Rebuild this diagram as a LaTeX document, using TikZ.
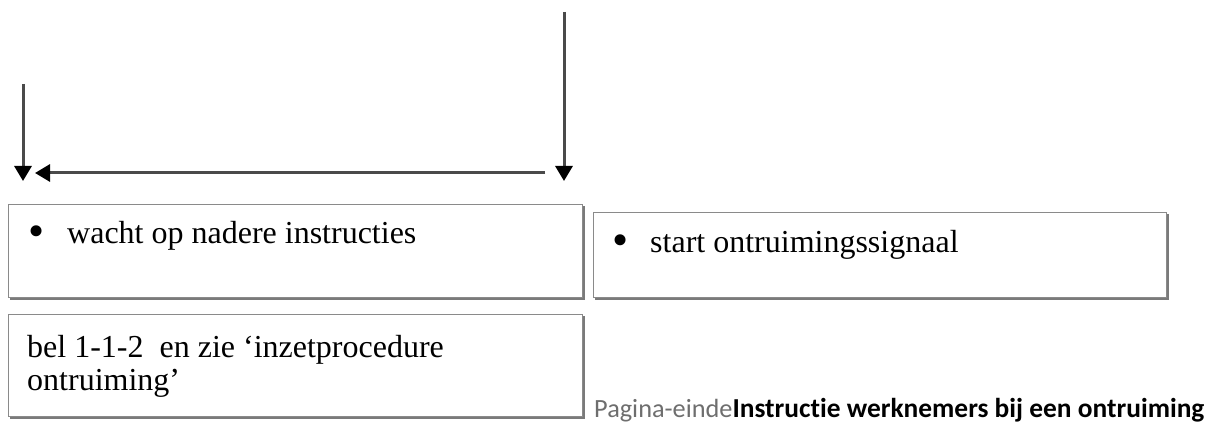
\documentclass[tikz,border=0pt]{standalone}
\usepackage{fontspec}
\setmainfont{Liberation Serif}
\newfontfamily\footfont[Ligatures={NoCommon,NoRequired,NoContextual},RawFeature={-liga;-clig;-dlig}]{Carlito}
\usetikzlibrary{arrows.meta}
\definecolor{boxline}{HTML}{8A8A8A}
\definecolor{boxshadow}{HTML}{7A7A7A}
\definecolor{arrowline}{HTML}{4A4A4A}
\definecolor{pagegray}{HTML}{6E6E6E}
\newcommand{\bigbullet}[1]{\makebox[#1][l]{\fontsize{46}{46}\selectfont\raisebox{-3pt}{•}}}
\tikzset{
  flowbox/.style={draw=boxline, line width=1.5pt, fill=white, rectangle, inner sep=0pt},
  flowarrow/.style={draw=arrowline, line width=3pt, -{Triangle[width=17pt,length=15pt,black]}},
  boxtext/.style={anchor=base west, inner sep=0pt, font=\fontsize{32}{36}\selectfont},
  foottext/.style={anchor=base west, inner sep=0pt, font=\footfont}
}
\begin{document}
\begin{tikzpicture}[x=1pt,y=-1pt]
\useasboundingbox (0,0) rectangle (1208,425);
% shadows
\fill[boxshadow] (10,206) rectangle (584.5,299.5);
\fill[boxshadow] (595,214) rectangle (1168.5,299.5);
\fill[boxshadow] (10,316) rectangle (584.5,418.5);
% boxes
\node[flowbox, minimum width=574pt, minimum height=93pt, anchor=north west] (b1) at (7.75,203.75) {};
\node[flowbox, minimum width=573pt, minimum height=85pt, anchor=north west] (b2) at (592.75,211.75) {};
\node[flowbox, minimum width=574pt, minimum height=102pt, anchor=north west] (b3) at (7.75,313.75) {};
% texts
\node[boxtext] (t1) at (28,243) {\bigbullet{39pt}wacht op nadere instructies};
\node[boxtext] (t2) at (612,252) {\bigbullet{38pt}start ontruimingssignaal};
\node[boxtext] (t3a) at (27,357) {bel 1-1-2\ \ en zie ‘inzetprocedure};
\node[boxtext] (t3b) at (27,390) {ontruiming’};
\node[foottext] (ft) at (594,417.5) {{\fontsize{26.3}{30}\selectfont\textcolor{pagegray}{Pagina-einde}}{\fontsize{27.4}{30}\selectfont\bfseries Instructie werknemers bij een ontruiming}};
% arrows
\coordinate (lA) at (23,84);
\coordinate (lB) at (23,181);
\coordinate (rA) at (564,12);
\coordinate (rB) at (564,181);
\coordinate (hA) at (545,173);
\coordinate (hB) at (35,173);
\draw[flowarrow] (lA) -- (lB);
\draw[flowarrow] (rA) -- (rB);
\draw[flowarrow] (hA) -- (hB);
\end{tikzpicture}
\end{document}
